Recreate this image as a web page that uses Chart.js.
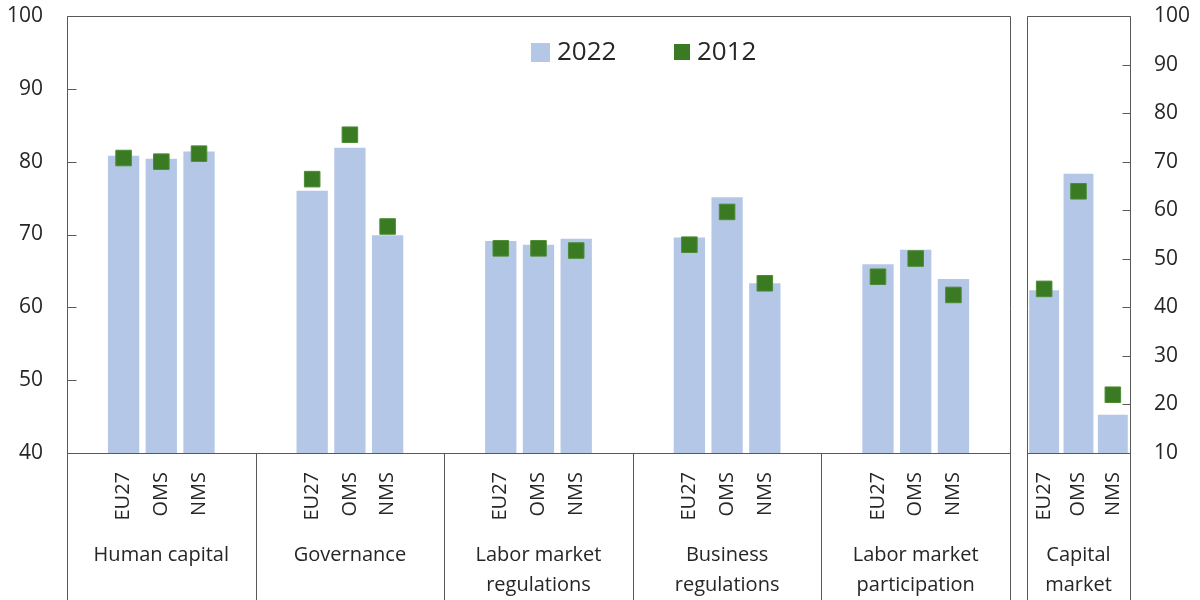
<!DOCTYPE html>
<html>
<head>
<meta charset="utf-8">
<script src="https://cdn.jsdelivr.net/npm/chart.js@4.4.1/dist/chart.umd.min.js"></script>
<style>
  html, body { margin: 0; padding: 0; background: #fff; }
  #wrap { position: relative; width: 1200px; height: 600px; overflow: hidden; }
  canvas { position: absolute; top: 0; }
  #left { left: 0; }
  #right { left: 1018px; }
</style>
</head>
<body>
<div id="wrap">
  <canvas id="left" width="1018" height="600"></canvas>
  <canvas id="right" width="182" height="600"></canvas>
</div>
<script>
/* ===============================
   DATA
   =============================== */
const members = ["EU27", "OMS", "NMS"];
const groupLabels = [
  ["Human capital"],
  ["Governance"],
  ["Labor market", "regulations"],
  ["Business", "regulations"],
  ["Labor market", "participation"]
];
const values2022 = [80.8, 80.4, 81.4, 76.0, 81.9, 69.9, 69.1, 68.6, 69.4, 69.6, 75.1, 63.3, 65.9, 67.9, 63.9];
const values2012 = [80.5, 80.0, 81.1, 77.6, 83.7, 71.1, 68.1, 68.1, 67.8, 68.6, 73.1, 63.3, 64.2, 66.7, 61.7];
const leftTicks = [40, 50, 60, 70, 80, 90, 100];

const capitalLabel = ["Capital", "market"];
const capital2022 = [43.5, 67.5, 17.9];
const capital2012 = [43.8, 63.9, 22.0];
const rightTicks = [10, 20, 30, 40, 50, 60, 70, 80, 90, 100];

const legendItems = ["2022", "2012"];

/* ===============================
   STYLE
   =============================== */
const BAR = "#b4c7e7";
const MARK = "#3a7a22";
const LINE = "#595959";
const TEXT = "#262626";
const FONT = '"Open Sans", sans-serif';

Chart.defaults.font.family = FONT;
Chart.defaults.color = TEXT;

// each group gets a blank slot either side of its three bars
const slotLabels = [];
const slot2022 = [];
const slot2012 = [];
groupLabels.forEach((g, gi) => {
  slotLabels.push("");
  slot2022.push(null);
  slot2012.push(null);
  members.forEach((m, mi) => {
    slotLabels.push(m);
    slot2022.push(values2022[gi * 3 + mi]);
    slot2012.push(values2012[gi * 3 + mi]);
  });
  slotLabels.push("");
  slot2022.push(null);
  slot2012.push(null);
});

function datasets(bars, marks, barPct) {
  return [
    {
      type: "line",
      label: legendItems[1],
      data: marks,
      showLine: false,
      pointStyle: "rect",
      pointRadius: 11,
      pointBackgroundColor: MARK,
      pointBorderColor: "#4d8c35",
      pointBorderWidth: 1,
      order: 0
    },
    {
      type: "bar",
      label: legendItems[0],
      data: bars,
      backgroundColor: BAR,
      barPercentage: barPct,
      categoryPercentage: 1,
      order: 1
    }
  ];
}

function noPad(s) {
  s.paddingTop = 0;
  s.paddingBottom = 0;
  s.paddingLeft = 0;
  s.paddingRight = 0;
}

function xScale() {
  return {
    grid: { display: false, drawTicks: false },
    border: { display: false },
    ticks: {
      autoSkip: false,
      minRotation: 90,
      maxRotation: 90,
      padding: 19,
      font: { size: 20 }
    },
    afterFit: s => { s.height = 147; noPad(s); }
  };
}

function yScale(pos, min, max, ticks, width, pad) {
  return {
    position: pos,
    min: min,
    max: max,
    grid: { display: false, drawTicks: false },
    border: { display: false },
    afterBuildTicks: s => { s.ticks = ticks.map(v => ({ value: v })); },
    ticks: { padding: pad, font: { size: 21 } },
    afterFit: s => { s.width = width; noPad(s); }
  };
}

function line(ctx, x1, y1, x2, y2) {
  ctx.beginPath();
  ctx.moveTo(x1, y1);
  ctx.lineTo(x2, y2);
  ctx.stroke();
}

function drawGroupLabel(ctx, lines, x) {
  ctx.fillStyle = TEXT;
  ctx.font = "20px " + FONT;
  ctx.textAlign = "center";
  ctx.textBaseline = "middle";
  lines.forEach((t, i) => ctx.fillText(t, x, 555 + i * 30));
}

/* ===============================
   LEFT PANEL
   =============================== */
const leftFrame = {
  id: "leftFrame",
  afterDraw(chart) {
    const ctx = chart.ctx;
    const ca = chart.chartArea;
    const xs = chart.scales.x;
    const ys = chart.scales.y;
    const L = Math.round(ca.left) + 0.5;
    const R = Math.round(ca.right) + 0.5;
    const T = Math.round(ca.top) + 0.5;
    const B = Math.round(ca.bottom) + 0.5;
    ctx.save();
    ctx.strokeStyle = LINE;
    ctx.lineWidth = 1;
    line(ctx, L, T, L, 600);
    line(ctx, L, T, R, T);
    line(ctx, R, T, R, 600);
    line(ctx, L, B, R, B);
    leftTicks.forEach(v => {
      const y = Math.round(ys.getPixelForValue(v)) + 0.5;
      line(ctx, L, y, L + 9, y);
    });
    for (let g = 1; g < groupLabels.length; g++) {
      const x = Math.round((xs.getPixelForValue(g * 5 - 1) + xs.getPixelForValue(g * 5)) / 2) + 0.5;
      line(ctx, x, B, x, 600);
    }
    groupLabels.forEach((lbl, g) => {
      drawGroupLabel(ctx, lbl, xs.getPixelForValue(g * 5 + 2));
    });

    // legend
    ctx.font = "26px " + FONT;
    ctx.textAlign = "left";
    ctx.textBaseline = "middle";
    ctx.fillStyle = BAR;
    ctx.fillRect(531, 43, 19, 19);
    ctx.fillStyle = TEXT;
    ctx.fillText(legendItems[0], 557, 53);
    ctx.fillStyle = MARK;
    ctx.fillRect(674, 44, 16, 16);
    ctx.fillStyle = TEXT;
    ctx.fillText(legendItems[1], 697, 53);
    ctx.restore();
  }
};

new Chart(document.getElementById("left"), {
  data: {
    labels: slotLabels,
    datasets: datasets(slot2022, slot2012, 0.83)
  },
  options: {
    responsive: false,
    animation: false,
    devicePixelRatio: 1,
    layout: { autoPadding: false, padding: { top: 16, right: 8, left: 0, bottom: 0 } },
    plugins: { legend: { display: false }, tooltip: { enabled: false } },
    scales: {
      x: xScale(),
      y: yScale("left", 40, 100, leftTicks, 67, 24)
    }
  },
  plugins: [leftFrame]
});

/* ===============================
   RIGHT PANEL – capital market
   =============================== */
const rightFrame = {
  id: "rightFrame",
  afterDraw(chart) {
    const ctx = chart.ctx;
    const ca = chart.chartArea;
    const ys = chart.scales.y;
    const L = Math.round(ca.left) + 0.5;
    const R = Math.round(ca.right) + 0.5;
    const T = Math.round(ca.top) + 0.5;
    const B = Math.round(ca.bottom) + 0.5;
    ctx.save();
    ctx.strokeStyle = LINE;
    ctx.lineWidth = 1;
    line(ctx, L, T, L, 600);
    line(ctx, L, T, R, T);
    line(ctx, R, T, R, 600);
    line(ctx, L, B, R, B);
    rightTicks.forEach(v => {
      const y = Math.round(ys.getPixelForValue(v)) + 0.5;
      line(ctx, R - 8, y, R, y);
    });
    drawGroupLabel(ctx, capitalLabel, (ca.left + ca.right) / 2);
    ctx.restore();
  }
};

new Chart(document.getElementById("right"), {
  data: {
    labels: members,
    datasets: datasets(capital2022, capital2012, 0.87)
  },
  options: {
    responsive: false,
    animation: false,
    devicePixelRatio: 1,
    layout: { autoPadding: false, padding: { top: 16, right: 0, left: 9, bottom: 0 } },
    plugins: { legend: { display: false }, tooltip: { enabled: false } },
    scales: {
      x: xScale(),
      y: yScale("right", 10, 100, rightTicks, 70, 24)
    }
  },
  plugins: [rightFrame]
});
</script>
</body>
</html>
